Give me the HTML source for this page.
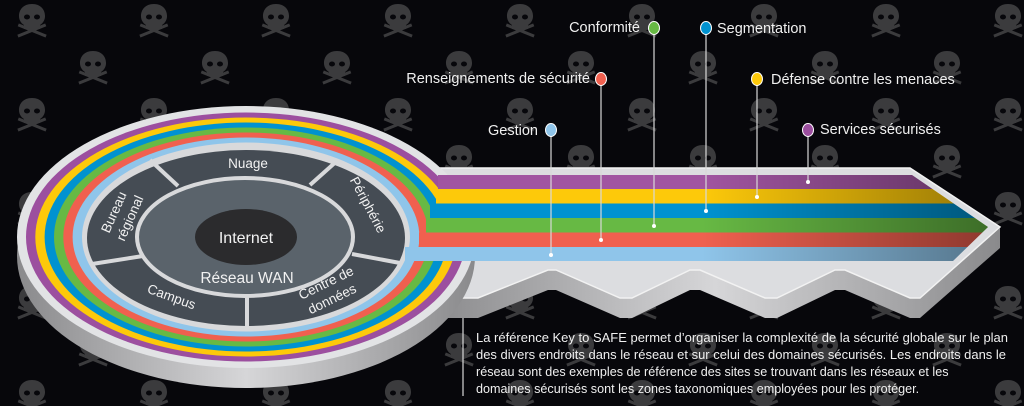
<!DOCTYPE html>
<html><head><meta charset="utf-8"><style>
html,body{margin:0;padding:0;background:#07070b;width:1024px;height:406px;overflow:hidden}
svg{display:block}
text{font-family:"Liberation Sans",sans-serif}
</style></head><body>
<svg width="1024" height="406" viewBox="0 0 1024 406" xmlns="http://www.w3.org/2000/svg">
<defs>
<g id="sk" fill="#3b3b3d">
 <path d="M0,0 c-9,0 -13,6 -13,12 c0,4 2,7 5,9 v4 h16 v-4 c3,-2 5,-5 5,-9 c0,-6 -4,-12 -13,-12z"/>
 <rect x="-15" y="25" width="30" height="3" transform="rotate(22 0 27)"/>
 <rect x="-15" y="25" width="30" height="3" transform="rotate(-22 0 27)"/>
 <ellipse cx="-5" cy="13" rx="3" ry="2.5" fill="#07070b"/><ellipse cx="5" cy="13" rx="3" ry="2.5" fill="#07070b"/>
</g>
<pattern id="pat" width="122" height="94" patternUnits="userSpaceOnUse" x="12" y="4">
 <use href="#sk" x="20" y="0"/><use href="#sk" x="81" y="47"/>
</pattern>
<linearGradient id="side" x1="0" x2="1"><stop offset="0" stop-color="#8a8a8c"/><stop offset=".5" stop-color="#d6d6d8"/><stop offset="1" stop-color="#8a8a8c"/></linearGradient>
<linearGradient id="fade" x1="0" x2="1"><stop offset="0.5" stop-color="#000" stop-opacity="0"/><stop offset="1" stop-color="#000" stop-opacity="0.42"/></linearGradient>
<clipPath id="tipclip"><polygon points="405,175 912,175 988,227 953,261 405,261"/></clipPath>
</defs>
<rect width="1024" height="406" fill="#07070b"/>
<rect width="1024" height="406" fill="url(#pat)"/>

<!-- key side -->
<polygon points="430,300 450,298 478,298 548,270 556,270 620,298 632,298 690,270 700,270 765,298 777,298 835,270 845,270 910,298 920,298 1000,228 1000,248 920,318 910,318 845,290 835,290 777,318 765,318 700,290 690,290 632,318 620,318 556,290 548,290 478,318 450,318 430,318" fill="url(#side)"/>
<!-- key top -->
<polygon points="420,168 910,168 1000,227 920,298 910,298 845,270 835,270 777,298 765,298 700,270 690,270 632,298 620,298 556,270 548,270 478,298 450,298 420,298" fill="#dcdde0" stroke="#f2f2f2" stroke-width="1.5"/>

<!-- disk side -->
<ellipse cx="246" cy="256" rx="229" ry="132" fill="url(#side)"/>
<ellipse cx="246" cy="237" rx="229" ry="131" fill="#e2e3e5"/>
<ellipse cx="246" cy="237" rx="220" ry="124.5" fill="#9c4f9f"/>
<ellipse cx="246" cy="237" rx="210.7" ry="119.5" fill="#fdc90a"/>
<ellipse cx="246" cy="237" rx="201.4" ry="114.5" fill="#0092d0"/>
<ellipse cx="246" cy="237" rx="192" ry="109.5" fill="#67b944"/>
<ellipse cx="246" cy="237" rx="182.7" ry="104.5" fill="#f0604f"/>
<ellipse cx="246" cy="237" rx="173.4" ry="99.5" fill="#8fc5ea"/>
<ellipse cx="246" cy="237" rx="164" ry="94.5" fill="#d8d9db"/>

<!-- stripes -->
<g clip-path="url(#tipclip)">
 <rect x="438" y="175" width="560" height="14" fill="#a155a1"/>
 <rect x="436" y="189" width="562" height="14.5" fill="#fdc90a"/>
 <rect x="430" y="203.5" width="568" height="14.5" fill="#0092d0"/>
 <rect x="426" y="218" width="572" height="14.5" fill="#67b944"/>
 <rect x="419" y="232.5" width="579" height="14.5" fill="#f0604f"/>
 <rect x="405" y="247" width="593" height="14" fill="#8fc5ea"/>
 <rect x="405" y="175" width="593" height="86" fill="url(#fade)"/>
</g>

<!-- segments -->
<ellipse cx="246" cy="238" rx="159" ry="88" fill="#454c54"/>
<g stroke="#d8d9db" stroke-width="4">
 <line x1="150" y1="160" x2="178" y2="186"/>
 <line x1="338" y1="160" x2="310" y2="185"/>
 <line x1="352" y1="254" x2="400" y2="263"/>
 <line x1="247" y1="294" x2="247" y2="328"/>
 <line x1="143" y1="256" x2="92" y2="264"/>
</g>
<ellipse cx="245" cy="237" rx="108" ry="59" fill="#5a636b" stroke="#d8d9db" stroke-width="4"/>
<ellipse cx="246" cy="237" rx="51" ry="28" fill="#2b2b2d"/>
<g fill="#f2f2f2" text-anchor="middle">
 <text x="246" y="243" font-size="16">Internet</text>
 <text x="247" y="283" font-size="15.5">Réseau WAN</text>
 <text x="248" y="168" font-size="13.5">Nuage</text>
 <text x="0" y="0" font-size="13.5" transform="translate(170,301) rotate(20)">Campus</text>
 <text x="0" y="0" font-size="13.5" transform="translate(328,287) rotate(-26)">Centre de</text>
 <text x="0" y="0" font-size="13.5" transform="translate(334,303) rotate(-26)">données</text>
 <text x="0" y="0" font-size="13.5" transform="translate(118,214) rotate(-66)">Bureau</text>
 <text x="0" y="0" font-size="13.5" transform="translate(134,220) rotate(-66)">régional</text>
 <text x="0" y="0" font-size="13.5" transform="translate(364,207) rotate(62)">Périphérie</text>
</g>

<!-- callout lines -->
<g stroke="#d8d8d8" stroke-width="1.2">
 <line x1="551" y1="130" x2="551" y2="255"/>
 <line x1="601" y1="79" x2="601" y2="240"/>
 <line x1="654" y1="28" x2="654" y2="226"/>
 <line x1="706" y1="28" x2="706" y2="211"/>
 <line x1="757" y1="79" x2="757" y2="197"/>
 <line x1="808" y1="130" x2="808" y2="182"/>
 <line x1="463" y1="318" x2="463" y2="396"/>
</g>
<g fill="#fff">
 <circle cx="551" cy="255" r="2"/><circle cx="601" cy="240" r="2"/><circle cx="654" cy="226" r="2"/>
 <circle cx="706" cy="211" r="2"/><circle cx="757" cy="197" r="2"/><circle cx="808" cy="182" r="2"/>
</g>
<g stroke="#fff" stroke-width="1">
 <ellipse cx="551" cy="130" rx="5.5" ry="6.5" fill="#8fc5ea"/>
 <ellipse cx="601" cy="79" rx="5.5" ry="6.5" fill="#f0604f"/>
 <ellipse cx="654" cy="28" rx="5.5" ry="6.5" fill="#67b944"/>
 <ellipse cx="706" cy="28" rx="5.5" ry="6.5" fill="#0092d0"/>
 <ellipse cx="757" cy="79" rx="5.5" ry="6.5" fill="#fdc90a"/>
 <ellipse cx="808" cy="130" rx="5.5" ry="6.5" fill="#9c4f9f"/>
</g>
<g fill="#f0f0f0" font-size="14.5">
 <text x="640" y="32" text-anchor="end">Conformité</text>
 <text x="717" y="33">Segmentation</text>
 <text x="590" y="83" text-anchor="end">Renseignements de sécurité</text>
 <text x="771" y="84">Défense contre les menaces</text>
 <text x="538" y="135" text-anchor="end">Gestion</text>
 <text x="820" y="134">Services sécurisés</text>
</g>
<g fill="#f0f0f0" font-size="12.6">
 <text x="476" y="342" textLength="532" lengthAdjust="spacingAndGlyphs">La référence Key to SAFE permet d’organiser la complexité de la sécurité globale sur le plan</text>
 <text x="476" y="359" textLength="530" lengthAdjust="spacingAndGlyphs">des divers endroits dans le réseau et sur celui des domaines sécurisés. Les endroits dans le</text>
 <text x="476" y="376">réseau sont des exemples de référence des sites se trouvant dans les réseaux et les</text>
 <text x="476" y="393">domaines sécurisés sont les zones taxonomiques employées pour les protéger.</text>
</g>
</svg>
</body></html>
